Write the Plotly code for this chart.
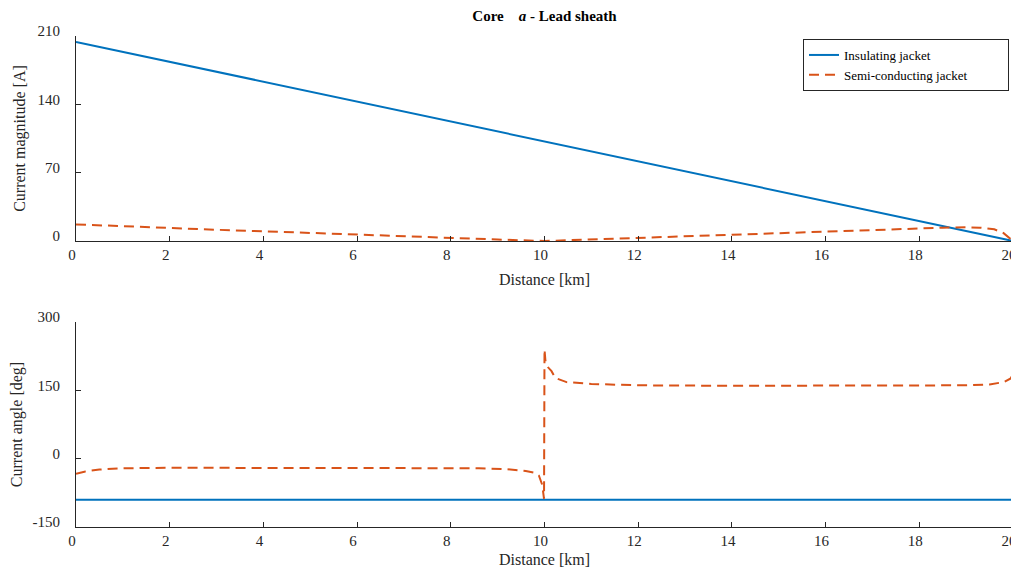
import plotly.graph_objects as go

# ---- data ----
dist_ins = [0, 20]
mag_ins = [204, 0]

dist_semi_mag = [0, 1, 2, 3, 4, 5, 6, 7, 8, 9, 10, 11, 12, 13, 14, 15, 16, 17, 18, 18.5, 19, 19.3, 19.6, 19.8, 20]
mag_semi = [17, 15, 13, 11.5, 10, 8.2, 6.5, 4.8, 3, 1.5, 0, 1.6, 3.2, 4.7, 6.2, 8, 10, 11.6, 13, 13.6, 14, 13.6, 12, 8, 0]

ang_ins_x = [0, 20]
ang_ins = [-90, -90]

ang_semi_x = [0, 0.2, 0.5, 1, 2, 4, 6, 8, 8.6, 9.2, 9.6, 9.8, 9.88, 9.95, 9.99, 10.0, 10.02, 10.08, 10.15, 10.23, 10.47, 11, 12, 14, 16, 18, 19, 19.5, 19.8, 19.95, 20]
ang_semi = [-33, -28, -24, -21, -20, -20, -20, -20, -21, -23, -27, -31, -37, -57, -88, 240, 215, 200, 192, 177, 168, 164, 161, 160, 160, 160, 161, 163, 168, 176, 186]

mag_ticks = [0, 70, 140, 210]
ang_ticks = [-150, 0, 150, 300]
ang_ticktext = ["-150", "0", "150", "300"]
dist_ticks = list(range(0, 21, 2))

BLUE = "#0072BD"
ORANGE = "#D95319"
FONT = "Liberation Serif"
AX = "#262626"

fig = go.Figure()
fig.add_trace(go.Scatter(x=dist_ins, y=mag_ins, mode="lines", name="Insulating jacket",
                         line=dict(color=BLUE, width=2), xaxis="x", yaxis="y"))
fig.add_trace(go.Scatter(x=dist_semi_mag, y=mag_semi, mode="lines",
                         name="Semi-conducting jacket" + "\u00a0" * 11,
                         line=dict(color=ORANGE, width=2, dash="10px,6px"), xaxis="x", yaxis="y"))
fig.add_trace(go.Scatter(x=ang_ins_x, y=ang_ins, mode="lines", showlegend=False,
                         line=dict(color=BLUE, width=2), xaxis="x2", yaxis="y2"))
fig.add_trace(go.Scatter(x=ang_semi_x, y=ang_semi, mode="lines", showlegend=False,
                         line=dict(color=ORANGE, width=2, dash="10px,6px"), xaxis="x2", yaxis="y2"))

common_x = dict(range=[0, 20], tickvals=dist_ticks, ticks="inside", ticklen=5,
                tickcolor=AX, showline=True, linecolor=AX, linewidth=1, showgrid=False,
                zeroline=False, tickfont=dict(family=FONT, size=15, color=AX),
                ticklabeloverflow="allow", automargin=False, ticklabelshift=-4,
                title=dict(text="Distance [km]", font=dict(family=FONT, size=16, color=AX), standoff=11))
common_y = dict(ticks="inside", ticklen=5, tickcolor=AX, showline=True, linecolor=AX,
                linewidth=1, showgrid=False, zeroline=False, automargin=False,
                ticklabelstandoff=12, ticklabelshift=-5,
                tickfont=dict(family=FONT, size=15, color=AX))

# the page has an 8px body margin; figure occupies 8..1019 x 8..568
W, H = 1011, 560
L, R, T, B = 68, 6, 28, 41
PH = H - T - B
top_bottom_px = 241 - 8   # top axes x-axis line (figure coords)
bot_top_px = 322 - 8      # bottom axes top
fig.update_layout(
    width=W, height=H,
    margin=dict(l=L, r=R, t=T, b=B, autoexpand=False),
    plot_bgcolor="white", paper_bgcolor="white",
    font=dict(family=FONT, color=AX),
    title=dict(text="<b>Core\u00a0\u00a0\u00a0\u00a0<i>a</i> - Lead sheath</b>",
               x=0.5, xref="paper", xanchor="center", y=1 - 7.5 / H, yref="container", yanchor="middle",
               font=dict(family=FONT, size=15, color="black")),
    xaxis=dict(anchor="y", domain=[0, 1], **common_x),
    yaxis=dict(domain=[(H - B - top_bottom_px) / PH, 1], range=[0, 210], tickvals=mag_ticks,
               title=dict(text="Current magnitude [A]", font=dict(family=FONT, size=16, color=AX), standoff=7),
               anchor="x", **common_y),
    xaxis2=dict(anchor="y2", domain=[0, 1], **common_x),
    yaxis2=dict(domain=[0, (H - B - bot_top_px) / PH], range=[-150, 300], tickvals=ang_ticks,
                ticktext=ang_ticktext,
                title=dict(text="Current angle [deg]", font=dict(family=FONT, size=16, color=AX), standoff=11),
                anchor="x2", **common_y),
    legend=dict(x=(803 - 76) / 937, y=1 - 3 / PH, xanchor="left", yanchor="top",
                bordercolor=AX, borderwidth=1, bgcolor="white",
                font=dict(family=FONT, size=13, color="black"),
                tracegroupgap=0, itemwidth=30),
)

fig.write_html("out.html")
